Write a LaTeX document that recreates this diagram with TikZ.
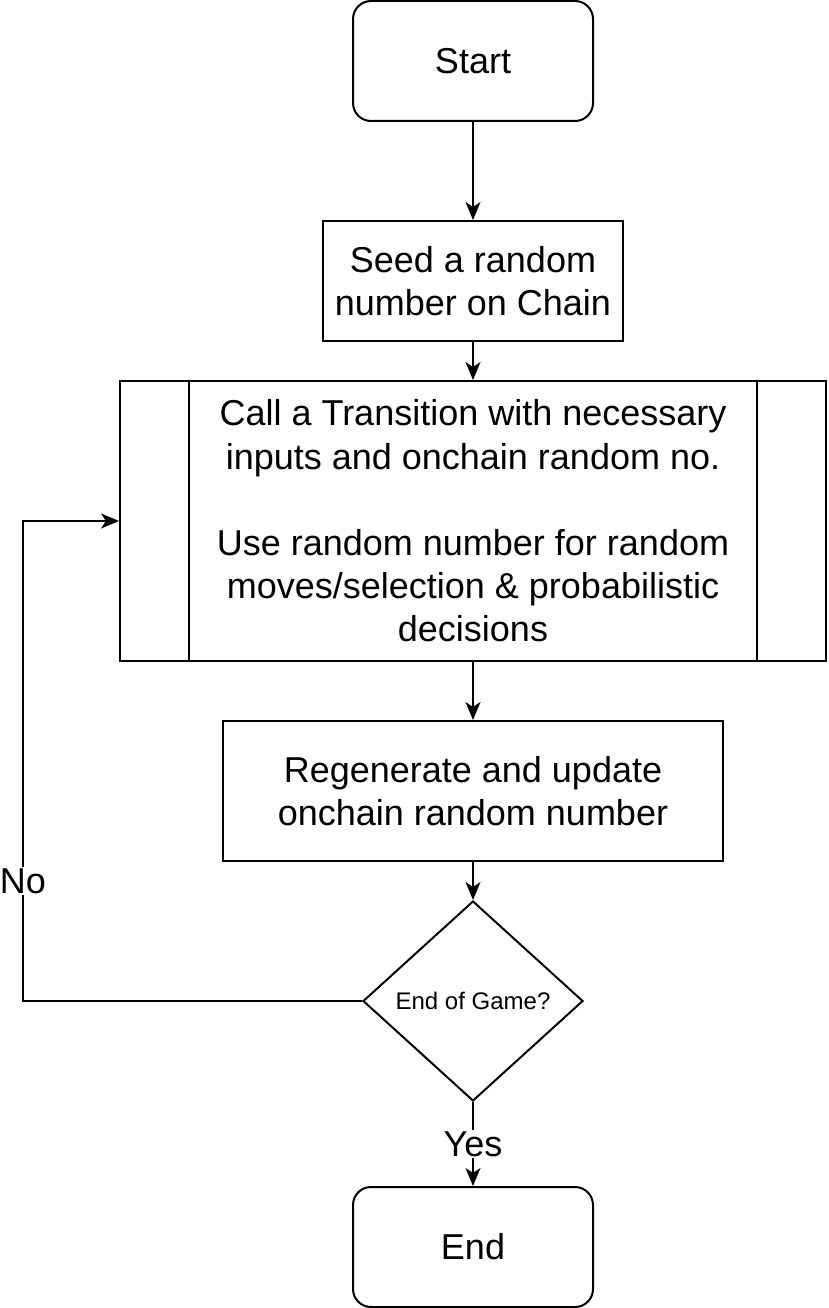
\documentclass[tikz,border=0pt]{standalone}
\usepackage{fontspec}
\setmainfont{Liberation Sans}
\usetikzlibrary{arrows.meta, shapes.geometric, positioning}

\tikzset{
	bigtext/.style={font=\fontsize{36}{43.2}\selectfont},
	startstop/.style={draw, bigtext, rounded corners=18pt, minimum width=240pt, minimum height=120pt, inner sep=0pt},
	process/.style={draw, bigtext, align=center, inner sep=0pt},
	decision/.style={draw, diamond, inner sep=0pt, minimum width=220pt, minimum height=200pt, font=\fontsize{24}{28.8}\selectfont},
	edgelabel/.style={fill=white, bigtext, inner sep=1pt}
}

\begin{document}
\begin{tikzpicture}[x=1pt, y=-1pt, line width=2pt, >={Stealth[length=18pt,width=15pt,inset=5pt]}]
	\useasboundingbox (0,0) rectangle (828,1308);
	\node[startstop] (start) at (473,61) {Start};
	\node[process, minimum width=300pt, minimum height=120pt] (seed) at (473,281) {Seed a random\\number on Chain};
	\node[process, minimum width=706pt, minimum height=280pt] (call) at (473,521) {Call a Transition with necessary\\inputs and onchain random no.\\[43.2pt]Use random number for random\\moves/selection \& probabilistic\\decisions};
	\draw ([xshift=70pt]call.north west) -- ([xshift=70pt]call.south west); \draw ([xshift=-70pt]call.north east) -- ([xshift=-70pt]call.south east);
	\node[process, minimum width=500pt, minimum height=140pt] (regen) at (473,791) {Regenerate and update\\onchain random number};
	\node[decision] (check) at (473,1001) {End of Game?};
	\node[startstop] (end) at (473,1247) {End};
	
	\draw[->] (start) -- (seed); \draw[->] (seed) -- (call); \draw[->] (call) -- (regen); \draw[->] (regen) -- (check);
	\draw[->] (check) -- node[edgelabel]{Yes} (end);
	\coordinate (nobottom) at (23,1001); \coordinate (notop) at (23,521);
	\draw[->] (check.west) -- (nobottom) -- node[edgelabel, pos=0.25]{No} (notop) -- (call.west);
\end{tikzpicture}
\end{document}
